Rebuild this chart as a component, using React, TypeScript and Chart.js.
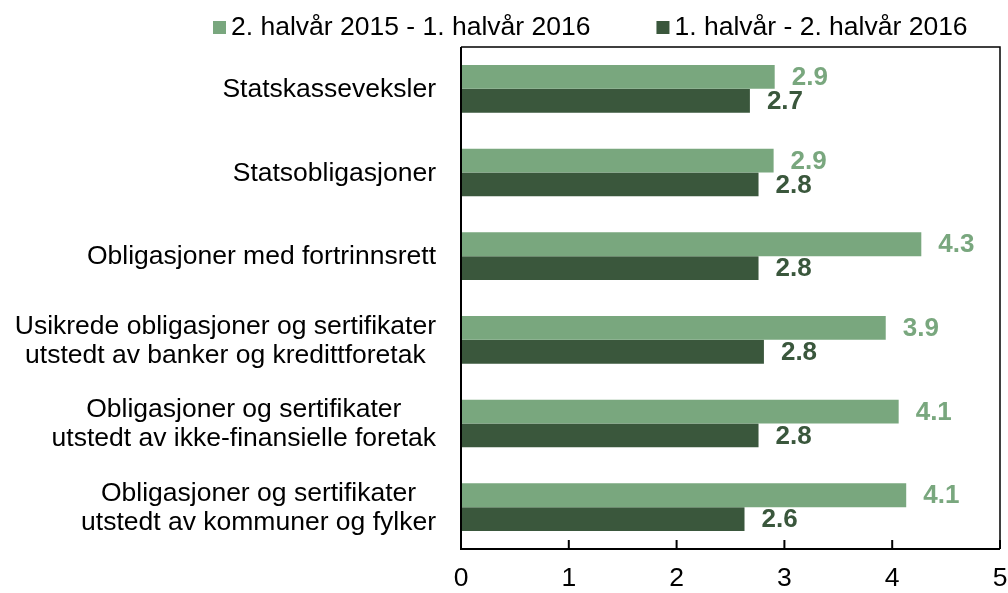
import React, { useEffect, useRef } from "react";
import { Chart, registerables } from "chart.js";

Chart.register(...registerables);

const categories: string[][] = [
  ["Statskasseveksler"],
  ["Statsobligasjoner"],
  ["Obligasjoner med fortrinnsrett"],
  ["Usikrede obligasjoner og sertifikater", "utstedt av banker og kredittforetak"],
  ["Obligasjoner og sertifikater", "utstedt av ikke-finansielle foretak"],
  ["Obligasjoner og sertifikater", "utstedt av kommuner og fylker"],
];

const seriesNames = ["2. halvår 2015 - 1. halvår 2016", "1. halvår - 2. halvår 2016"];
const seriesA = [2.91, 2.9, 4.27, 3.94, 4.06, 4.13];
const seriesB = [2.68, 2.76, 2.76, 2.81, 2.76, 2.63];
const xTicks = [0, 1, 2, 3, 4, 5];

const LIGHT = "#79A77E";
const DARK = "#3A573C";
const FONT = "Liberation Sans, Arial, sans-serif";
const FS = 26.5;

const framePlugin = {
  id: "frame",
  afterDraw(chart: any) {
    const { ctx, chartArea } = chart;
    const { left, right, top, bottom } = chartArea;
    const xs = chart.scales.x;
    ctx.save();
    ctx.strokeStyle = "#000";
    ctx.lineWidth = 1.5;
    ctx.beginPath();
    ctx.moveTo(left, top);
    ctx.lineTo(right, top);
    ctx.lineTo(right, bottom);
    ctx.stroke();
    ctx.lineWidth = 2;
    ctx.beginPath();
    ctx.moveTo(left, top);
    ctx.lineTo(left, bottom);
    ctx.lineTo(right, bottom);
    ctx.stroke();
    xTicks.forEach((v) => {
      const px = xs.getPixelForValue(v);
      ctx.beginPath();
      ctx.moveTo(px, bottom);
      ctx.lineTo(px, bottom - 9);
      ctx.stroke();
    });

    const ys = chart.scales.y;
    ctx.fillStyle = "#000";
    ctx.font = `${FS}px ${FONT}`;
    ctx.textBaseline = "middle";
    ctx.textAlign = "center";
    const rightEdge = 436;
    const lh = 29;
    (chart.data.labels as string[][]).forEach((lines, i) => {
      const cy = ys.getPixelForValue(i) + 1;
      const w = Math.max(...lines.map((l) => ctx.measureText(l).width));
      const cx = rightEdge - w / 2;
      const y0 = cy - ((lines.length - 1) * lh) / 2;
      lines.forEach((l, k) => ctx.fillText(l, cx, y0 + k * lh));
    });

    ctx.font = `bold 26px ${FONT}`;
    ctx.textAlign = "left";
    chart.data.datasets.forEach((ds: any, di: number) => {
      const meta = chart.getDatasetMeta(di);
      ctx.fillStyle = ds.backgroundColor;
      meta.data.forEach((bar: any, i: number) => {
        ctx.fillText((ds.data[i] as number).toFixed(1), bar.x + 17, bar.y + 1);
      });
    });

    ctx.font = `${FS}px ${FONT}`;
    ctx.textBaseline = "middle";
    let x = 213;
    const colors = [LIGHT, DARK];
    seriesNames.forEach((name, i) => {
      ctx.fillStyle = colors[i];
      ctx.fillRect(x, 21, 13, 13);
      ctx.fillStyle = "#000";
      ctx.fillText(name, x + 18, 28);
      x += 18 + ctx.measureText(name).width + 66;
    });
    ctx.restore();
  },
};

export default function App() {
  const ref = useRef<HTMLCanvasElement | null>(null);
  useEffect(() => {
    if (!ref.current) return;
    const chart = new Chart(ref.current, {
      type: "bar",
      data: {
        labels: categories as any,
        datasets: [
          { label: seriesNames[0], data: seriesA, backgroundColor: LIGHT, barPercentage: 1, categoryPercentage: 0.57 },
          { label: seriesNames[1], data: seriesB, backgroundColor: DARK, barPercentage: 1, categoryPercentage: 0.57 },
        ],
      },
      options: {
        indexAxis: "y",
        animation: false,
        responsive: true,
        maintainAspectRatio: false,
        layout: { padding: { top: 47, right: 8, left: 0, bottom: 0 } },
        plugins: { legend: { display: false }, tooltip: { enabled: false }, title: { display: false } },
        scales: {
          x: {
            min: 0,
            max: 5,
            afterFit: (s: any) => {
              s.height = 44;
              s.paddingLeft = 0;
              s.paddingRight = 0;
            },
            afterBuildTicks: (s: any) => { s.ticks = xTicks.map((v) => ({ value: v })); },
            grid: { display: false, drawTicks: false },
            border: { display: false },
            ticks: { stepSize: 1, padding: 14, color: "#000", font: { family: FONT, size: FS } },
          },
          y: {
            afterFit: (s: any) => {
              s.width = 461;
              s.paddingTop = 0;
              s.paddingBottom = 0;
            },
            grid: { display: false, drawTicks: false },
            border: { display: false },
            ticks: { display: false },
          },
        },
      },
      plugins: [framePlugin],
    });
    return () => chart.destroy();
  }, []);
  return (
    <div style={{ position: "fixed", left: 0, top: 0, width: 1008, height: 593, background: "#fff" }}>
      <canvas ref={ref} />
    </div>
  );
}
